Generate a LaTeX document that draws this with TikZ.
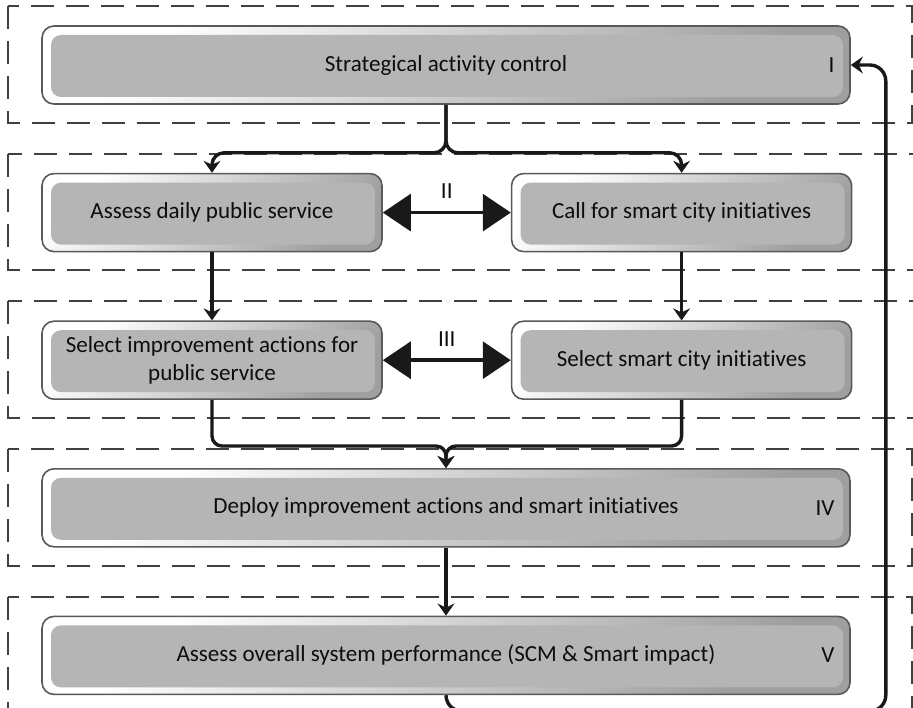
\documentclass[tikz,border=0pt]{standalone}
\usepackage{fontspec}
\setmainfont{Carlito}[RawFeature={-liga;-clig;-calt}]
\usetikzlibrary{positioning, arrows.meta}
\tikzstyle{box} = [rectangle, rounded corners=0.3cm, minimum width=20.2cm, minimum
height=1.95cm, align=center, text=black!95, draw=black!65, line width=0.04cm,
top color=white, bottom color=gray!75, shading angle=45,
path picture={\fill[gray!58, rounded corners=0.25cm]
  ([xshift=0.225cm,yshift=0.175cm]path picture bounding box.south west) rectangle
  ([xshift=-0.175cm,yshift=-0.225cm]path picture bounding box.north east);},
font=\fontsize{16.4}{20}\selectfont]
\tikzstyle{half} = [box, minimum width=8.5cm]
\tikzstyle{roman} = [font=\fontsize{16.4}{20}\selectfont, text=black!95, inner sep=0pt]
\tikzstyle{panel} = [draw=black!75, line width=0.05cm, dash pattern=on 0.575cm off 0.3cm]
\tikzstyle{flow} = [line width=0.085cm, draw=black!90, rounded corners=0.3cm,
-{Stealth[length=0.3cm, width=0.42cm, inset=0.1cm]}]
\tikzstyle{link} = [line width=0.09cm, draw=black!90,
{Triangle[length=0.7cm, width=0.92cm]}-{Triangle[length=0.7cm, width=0.92cm]}]

\begin{document}
\begin{tikzpicture}
  \useasboundingbox (0,0) rectangle (22.825,-17.7);

  \node (control) [box] at (11.15,-1.625) {Strategical activity control};
  \node (daily) [half, below=1.7cm of control.south west, anchor=north west] {Assess daily public service};
  \node (initiatives) [half, right=3.2cm of daily] {Call for smart city initiatives};
  \node (selectpub) [half, below=1.7cm of daily] {Select improvement actions for\\public service};
  \node (selectsmart) [half, below=1.7cm of initiatives] {Select smart city initiatives};
  \node (deploy) [box, below=1.7cm of selectpub.south west, anchor=north west] {Deploy improvement actions and smart initiatives};
  \node (assess) [box, below=1.7cm of deploy] {Assess overall system performance (SCM \& Smart impact)};

  % stage numbers
  \node (numI) [roman, anchor=east] at ([xshift=-0.4cm]control.east) {I};
  \node (numIV) [roman, anchor=east] at ([xshift=-0.4cm]deploy.east) {IV};
  \node (numV) [roman, anchor=east] at ([xshift=-0.4cm]assess.east) {V};

  % stage bands
  \foreach \a/\b in {control/control, daily/initiatives, selectpub/selectsmart, deploy/deploy, assess/assess}
    \draw[panel] ([xshift=-0.825cm,yshift=0.475cm]\a.north west) rectangle ([xshift=1.53cm,yshift=-0.45cm]\b.south east);

  \coordinate (split) at ([yshift=-1.2cm]control.south);
  \coordinate (merge) at ([yshift=-1.15cm]selectpub.south);
  \coordinate (low) at ([yshift=-0.4cm]assess.south);
  \coordinate (back) at ([xshift=0.875cm]control.east);

  \draw[flow] (control.south) |- (split -| daily.north) -- (daily.north);
  \draw[flow] (control.south) |- (split -| initiatives.north) -- (initiatives.north);
  \draw[link] (daily) -- node (numII) [roman, above=0.3cm] {II} (initiatives);
  \draw[flow] (daily) -- (selectpub);
  \draw[flow] (initiatives) -- (selectsmart);
  \draw[link] (selectpub) -- node (numIII) [roman, above=0.3cm] {III} (selectsmart);
  \draw[flow, rounded corners=0.25cm] (selectpub.south) |- (merge -| deploy.north) -- (deploy.north);
  \draw[flow, rounded corners=0.25cm] (selectsmart.south) |- (merge -| deploy.north) -- (deploy.north);
  \draw[flow] (deploy) -- (assess);
  \draw[flow, rounded corners=0.4cm] (assess.south) -- (low) -| (back) -- (control.east);
\end{tikzpicture}
\end{document}
